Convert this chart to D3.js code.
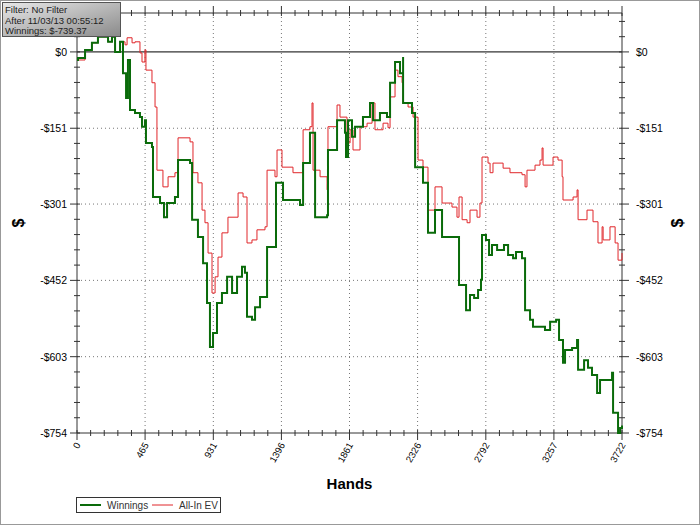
<!DOCTYPE html>
<html><head><meta charset="utf-8">
<script src="https://cdn.jsdelivr.net/npm/d3@7"></script>
<style>body{margin:0;background:#fff}text{font-family:"Liberation Sans",Arial,sans-serif}</style>
</head><body><svg id="c" width="700" height="525"></svg>
<script>
const winHands=[0,7,55,102,143,212,239,260,294,314,335,348,362,396,430,444,464,471,512,519,567,594,615,669,690,772,786,826,861,888,908,929,956,990,1025,1059,1093,1127,1147,1161,1195,1216,1250,1298,1339,1359,1407,1523,1544,1591,1619,1626,1708,1714,1776,1830,1837,1851,1878,1899,1953,2001,2022,2069,2117,2138,2172,2192,2206,2227,2227,2288,2309,2363,2397,2431,2445,2493,2595,2609,2657,2684,2712,2739,2759,2766,2793,2814,2834,2869,2916,2944,2978,2998,3039,3060,3094,3114,3162,3196,3231,3272,3292,3319,3333,3381,3415,3422,3463,3490,3517,3552,3572,3606,3654,3661,3695,3709,3722];
const winValues=[-16,-12,4,18,30,20,30,0,20,-42,-91,-16,-115,-121,-129,-148,-135,-180,-188,-287,-299,-327,-299,-287,-214,-220,-332,-366,-418,-497,-584,-556,-497,-477,-445,-477,-445,-425,-437,-524,-530,-505,-485,-386,-386,-259,-293,-303,-220,-160,-160,-327,-323,-194,-135,-160,-208,-135,-168,-148,-129,-101,-135,-121,-129,-61,-20,-20,-42,-10,-101,-121,-228,-259,-358,-358,-313,-366,-366,-461,-511,-481,-487,-471,-451,-362,-372,-402,-382,-392,-382,-402,-408,-396,-408,-511,-530,-544,-544,-550,-534,-530,-570,-615,-590,-586,-570,-629,-610,-625,-639,-675,-649,-649,-635,-714,-754,-744,-739];
const evHands=[0,55,102,143,212,239,260,294,328,342,376,396,430,444,464,471,512,533,546,587,622,669,690,772,792,826,854,874,895,922,943,963,990,1031,1100,1134,1161,1195,1229,1284,1298,1352,1366,1400,1475,1537,1544,1591,1605,1612,1660,1708,1714,1776,1796,1844,1865,1885,1933,1981,2015,2035,2090,2124,2138,2172,2192,2220,2227,2261,2295,2329,2363,2397,2445,2493,2561,2595,2609,2630,2664,2684,2732,2752,2766,2807,2821,2841,2910,2957,3039,3060,3073,3128,3162,3176,3183,3231,3251,3285,3313,3319,3388,3415,3422,3483,3524,3558,3586,3593,3640,3675,3695,3722];
const evValues=[-16,4,18,30,20,30,0,20,14,28,18,20,-2,-20,4,-36,-61,-109,-234,-267,-247,-239,-170,-178,-239,-259,-313,-338,-398,-477,-445,-406,-358,-327,-279,-287,-378,-372,-352,-346,-234,-247,-194,-228,-239,-239,-154,-148,-101,-234,-247,-273,-148,-105,-129,-180,-154,-194,-148,-141,-101,-154,-141,-150,-89,-36,-49,-61,-101,-109,-129,-214,-228,-313,-267,-299,-307,-327,-287,-332,-338,-313,-327,-299,-208,-220,-239,-220,-230,-239,-243,-267,-234,-224,-214,-190,-224,-224,-208,-214,-247,-293,-287,-273,-332,-313,-336,-378,-346,-372,-346,-378,-412,-398];
const xTicks=[0,465,931,1396,1861,2326,2792,3257,3722];
const yTicks=[0,-151,-301,-452,-603,-754];
const yTickLabels=["$0","-$151","-$301","-$452","-$603","-$754"];
const infoLines=["Filter: No Filter","After 11/03/13 00:55:12","Winnings: $-739.37"];

const svg=d3.select("#c");
const L=77,R=622,T=13,B=433;
const x=d3.scaleLinear().domain([0,3722]).range([L,R]);
const y=d3.scaleLinear().domain([-754,77]).range([B,T]);
svg.append("rect").attr("x",0.5).attr("y",0.5).attr("width",699).attr("height",524).attr("fill","#fff").attr("stroke","#999");

const g=svg.append("g");
g.selectAll(".vg").data(xTicks.slice(1,-1)).join("line").attr("x1",d=>x(d)).attr("x2",d=>x(d)).attr("y1",T).attr("y2",B).attr("stroke","#777").attr("stroke-dasharray","1,3");
g.selectAll(".hg").data(yTicks.slice(1,-1)).join("line").attr("x1",L).attr("x2",R).attr("y1",d=>y(d)).attr("y2",d=>y(d)).attr("stroke","#777").attr("stroke-dasharray","1,3");
g.append("line").attr("x1",L).attr("x2",R).attr("y1",y(0)).attr("y2",y(0)).attr("stroke","#000");

const xMinor=[];for(let i=0;i<xTicks.length-1;i++)for(let k=1;k<5;k++)xMinor.push(xTicks[i]+(xTicks[i+1]-xTicks[i])*k/5);
const yMinor=[];for(let i=0;i<yTicks.length-1;i++)for(let k=1;k<5;k++)yMinor.push(yTicks[i]+(yTicks[i+1]-yTicks[i])*k/5);
yMinor.push(30.16,60.32);
const ax=svg.append("g").attr("stroke","#333");
ax.append("line").attr("x1",L).attr("x2",R).attr("y1",B).attr("y2",B);
ax.append("line").attr("x1",L).attr("x2",R).attr("y1",T).attr("y2",T);
ax.append("line").attr("x1",L).attr("x2",L).attr("y1",T).attr("y2",B);
ax.append("line").attr("x1",R).attr("x2",R).attr("y1",T).attr("y2",B);
[[B,1],[T,-1]].forEach(([yy,s])=>{
  ax.selectAll(null).data(xTicks).join("line").attr("x1",d=>x(d)).attr("x2",d=>x(d)).attr("y1",yy-3*s).attr("y2",yy+7*s);
  ax.selectAll(null).data(xMinor).join("line").attr("x1",d=>x(d)).attr("x2",d=>x(d)).attr("y1",yy-3).attr("y2",yy+3);
});
[[L,-1],[R,1]].forEach(([xx,s])=>{
  ax.selectAll(null).data(yTicks).join("line").attr("y1",d=>y(d)).attr("y2",d=>y(d)).attr("x1",xx-3*s).attr("x2",xx+7*s);
  ax.selectAll(null).data(yMinor).join("line").attr("y1",d=>y(d)).attr("y2",d=>y(d)).attr("x1",xx-3).attr("x2",xx+3);
});
svg.selectAll(".yl").data(yTicks).join("text").attr("x",L-10).attr("y",d=>y(d)+4).attr("text-anchor","end").attr("font-size",10.5).text((d,i)=>yTickLabels[i]);
svg.selectAll(".yr").data(yTicks).join("text").attr("x",R+14).attr("y",d=>y(d)+4).attr("text-anchor","start").attr("font-size",10.5).text((d,i)=>yTickLabels[i]);
svg.selectAll(".xl").data(xTicks).join("text").attr("font-size",9.5).attr("text-anchor","end")
  .attr("transform",d=>`translate(${x(d)+4},${B+12}) rotate(-60)`).text(d=>d);
svg.append("text").attr("x",x(1861)).attr("y",489).attr("text-anchor","middle").attr("font-size",15).attr("font-weight","bold").text("Hands");
svg.append("text").attr("transform","translate(24,223) rotate(-90)").attr("text-anchor","middle").attr("font-size",16).attr("font-weight","bold").text("$");
svg.append("text").attr("transform","translate(683,223) rotate(-90)").attr("text-anchor","middle").attr("font-size",16).attr("font-weight","bold").text("$");

const line=d3.line().curve(d3.curveStepAfter).x(d=>x(d[0])).y(d=>y(d[1]));
svg.append("path").datum(d3.zip(evHands,evValues)).attr("d",line).attr("fill","none").attr("stroke","#e0262a").attr("stroke-width",1);
svg.append("path").datum(d3.zip(winHands,winValues)).attr("d",line).attr("fill","none").attr("stroke","#0a6b0a").attr("stroke-width",2);

const grad=svg.append("defs").append("linearGradient").attr("id","gb").attr("x1",0).attr("y1",0).attr("x2",1).attr("y2",1);
grad.append("stop").attr("offset",0).attr("stop-color","#e8e8e8");
grad.append("stop").attr("offset",1).attr("stop-color","#8a8a8a");
svg.append("rect").attr("x",2.5).attr("y",2.5).attr("width",118).attr("height",34).attr("fill","url(#gb)").attr("stroke","#555");
svg.selectAll(".info").data(infoLines).join("text").attr("x",5).attr("y",(d,i)=>13+i*10.5).attr("font-size",9.5).attr("fill","#222").text(d=>d);

svg.append("rect").attr("x",76.5).attr("y",497.5).attr("width",144).attr("height",15).attr("fill","#fff").attr("stroke","#333");
svg.append("line").attr("x1",80).attr("x2",101).attr("y1",505).attr("y2",505).attr("stroke","#0a6b0a").attr("stroke-width",2);
svg.append("text").attr("x",107).attr("y",509).attr("font-size",10).attr("fill","#333").text("Winnings");
svg.append("line").attr("x1",152).attr("x2",173).attr("y1",505).attr("y2",505).attr("stroke","#e0262a").attr("stroke-width",1);
svg.append("text").attr("x",179).attr("y",509).attr("font-size",10).attr("fill","#333").text("All-In EV");
</script></body></html>
